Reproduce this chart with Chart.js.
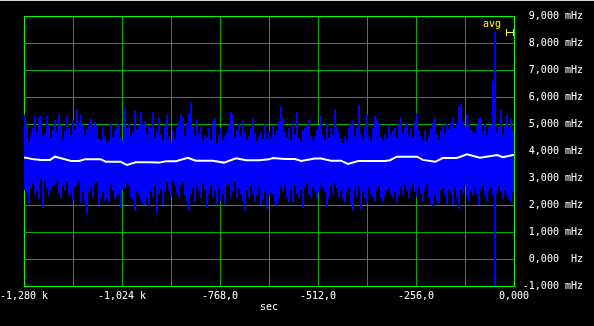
<!DOCTYPE html>
<html><head><meta charset="utf-8">
<script src="https://cdn.jsdelivr.net/npm/chart.js@4"></script>
<style>html,body{margin:0;padding:0;background:#000;overflow:hidden}canvas{display:block}</style>
</head><body>
<canvas id="c" width="594" height="326"></canvas>
<script>
// ---- data (values in mHz, time in sec) ----
const xTickValues = [-1280, -1024, -768, -512, -256, 0];
const xTickLabels = ['-1,280 k', '-1,024 k', '-768,0', '-512,0', '-256,0', '0,000'];
const yTickValues = [-1, 0, 1, 2, 3, 4, 5, 6, 7, 8, 9];
const yTickLabels = ['-1,000 mHz', '0,000  Hz', '1,000 mHz', '2,000 mHz', '3,000 mHz', '4,000 mHz',
                     '5,000 mHz', '6,000 mHz', '7,000 mHz', '8,000 mHz', '9,000 mHz'];
const timeSpan = 1280;

// per-bin maximum (245 bins across the record)
const binMax = [
5.35,4.95,4.35,4.60,4.85,5.30,4.70,5.25,5.30,4.55,
4.65,5.30,4.95,4.50,4.80,5.15,4.70,5.40,4.95,4.45,
4.75,5.30,4.85,4.60,5.15,4.80,5.55,5.05,5.35,4.95,
4.60,4.80,5.00,5.20,4.90,5.10,4.95,4.45,4.40,4.90,
4.55,4.30,4.40,5.00,4.50,4.75,4.90,5.00,4.50,4.40,
5.60,4.85,5.00,4.55,4.70,5.50,4.80,4.95,5.45,5.00,
5.10,4.60,4.95,
4.85,5.45,4.50,4.75,5.25,4.60,4.40,4.95,5.35,4.50,
4.35,4.75,4.45,4.85,5.10,5.35,5.25,4.55,5.05,5.40,
5.80,4.90,4.55,5.15,4.65,4.90,4.40,4.60,4.50,4.85,
4.40,5.10,5.20,4.30,4.60,4.85,4.40,4.55,4.70,4.95,
5.45,5.35,4.50,4.80,5.00,4.55,5.10,4.70,4.40,4.55,
4.85,5.20,4.65,4.35,4.55,4.70,4.45,5.00,4.50,4.75,
4.45,
4.95,4.60,4.75,5.10,5.65,5.20,4.70,4.50,4.85,4.40,
5.05,4.60,5.45,4.50,4.35,4.75,4.85,4.95,5.15,4.55,
4.40,4.55,4.80,4.95,5.30,4.60,4.40,5.00,4.50,4.85,
4.60,5.55,4.90,4.70,4.45,4.30,4.55,4.40,4.85,5.00,
5.10,4.55,4.90,5.70,4.65,4.45,4.90,5.35,4.55,4.40,
4.85,5.30,5.20,5.05,4.50,4.40,4.65,4.45,4.95,4.60,
4.75,
4.85,4.50,5.00,5.25,4.65,4.90,5.05,4.55,4.85,4.50,
5.10,5.40,4.80,4.55,4.40,4.75,4.35,4.55,4.85,5.05,
5.25,4.60,4.40,4.75,4.95,4.65,5.00,4.80,5.05,5.25,
4.85,5.00,5.65,5.75,5.10,4.90,5.35,5.05,4.80,4.70,
4.65,4.95,5.20,5.25,4.75,5.00,4.60,4.90,4.95,6.60,
8.45,4.70,4.90,5.55,4.60,4.95,5.35,4.85,5.20,4.75
];
// per-bin minimum
const binMin = [
2.55,2.45,2.05,2.65,2.80,2.40,2.55,2.20,2.95,1.90,
2.85,2.60,2.35,2.55,2.70,2.75,2.90,2.45,2.25,2.75,
2.55,2.85,2.35,2.45,2.15,2.65,2.75,2.90,2.10,2.50,
2.05,1.70,2.45,2.60,2.30,2.80,2.85,2.00,2.30,2.50,
2.15,2.25,2.10,2.70,2.55,2.20,2.35,2.40,1.90,2.55,
2.60,2.80,2.70,2.30,2.20,1.80,2.50,2.40,2.15,2.05,
2.00,2.30,1.95,
2.50,2.30,2.70,1.70,2.40,2.60,2.00,2.50,2.85,2.55,
2.30,2.90,2.75,2.45,2.25,2.70,2.85,2.35,2.15,1.80,
2.40,2.65,2.10,2.70,2.50,2.25,2.80,2.55,1.90,2.40,
2.70,2.30,2.55,2.05,2.60,2.15,2.40,2.05,2.70,2.80,
2.30,2.50,2.85,2.25,2.60,2.40,2.15,1.80,2.55,2.30,
2.70,2.40,2.10,2.35,2.65,2.00,2.20,2.50,1.85,2.35,
2.45,
2.40,2.05,1.95,2.20,2.65,2.50,2.70,2.30,2.10,2.55,
2.10,2.70,2.40,2.25,2.55,1.90,2.65,2.80,2.40,2.30,
2.70,2.50,2.25,2.45,2.75,2.60,2.50,1.95,2.25,2.70,
2.40,2.80,2.60,2.30,2.55,2.25,2.10,2.45,2.65,2.05,
1.80,2.55,2.30,2.70,1.85,2.50,2.25,2.05,2.65,2.40,
2.30,2.15,2.55,2.70,2.25,2.10,2.35,2.55,2.65,2.40,
2.25,
2.50,2.10,2.35,2.65,2.40,2.75,2.55,2.25,2.60,2.80,
2.50,2.30,2.65,2.40,2.15,2.55,2.75,2.30,2.05,1.95,
2.35,2.15,2.05,2.55,2.65,2.35,2.05,2.55,2.45,2.00,
2.65,2.25,1.85,2.55,2.40,2.70,2.35,2.10,2.55,2.35,
2.60,2.40,2.00,2.55,2.70,2.35,2.15,2.55,2.65,2.35,
-1.00,2.45,2.70,2.50,2.25,2.55,2.35,2.20,2.10,2.45
];
// running average
const avgTimes = [-1280,-1275,-1254,-1235,-1212,-1199,-1183,-1157,-1136,-1121,-1079,-1066,-1027,-1011,-988,-955,-927,-909,-883,-852,-831,-787,-758,-726,-700,-666,-640,-630,-598,-572,-556,-520,-504,-478,-452,-434,-407,-337,-324,-306,-253,-238,-206,-186,-149,-123,-89,-44,-29,-3,0];
const avgValues = [3.75,3.75,3.69,3.67,3.67,3.79,3.73,3.63,3.63,3.69,3.69,3.60,3.60,3.48,3.58,3.58,3.57,3.62,3.62,3.75,3.64,3.64,3.57,3.73,3.66,3.66,3.69,3.74,3.70,3.70,3.63,3.72,3.72,3.64,3.64,3.52,3.63,3.63,3.66,3.79,3.79,3.67,3.60,3.74,3.74,3.88,3.75,3.85,3.77,3.85,3.85];

// ---- build datasets ----
const nBins = binMax.length;
const bars = binMax.map((hi, i) => ({ x: -timeSpan + (i + 0.5) * timeSpan / nBins, y: [binMin[i], hi] }));
const avg = avgTimes.map((t, i) => ({ x: t, y: avgValues[i] }));

const FONT = { family: 'DejaVu Sans Mono', size: 10, lineHeight: 1.2 };
const GRID = '#00b000', EDGE = '#00ff00';

// snap scale pixels to clean values so 1px grid lines land on whole pixels
function snapPixels(scale) {
  const f = scale.getPixelForValue.bind(scale);
  scale.getPixelForValue = (v, i) => Math.round(f(v, i) * 1000) / 1000;
}

const overlay = {
  id: 'overlay',
  afterDraw(chart) {
    const c = chart.ctx, a = chart.chartArea;
    c.save();
    c.fillStyle = '#d4d4d4';
    c.fillRect(0, 0, chart.width, 1);
    c.fillStyle = '#ffff00';
    c.font = '10px "DejaVu Sans Mono"';
    c.textAlign = 'center';
    c.textBaseline = 'middle';
    c.fillText('avg', a.right - 22, a.top + 8);
    c.strokeStyle = '#ffff00';
    c.lineWidth = 1;
    c.beginPath();
    c.moveTo(a.right - 7.5, a.top + 13); c.lineTo(a.right - 7.5, a.top + 20);
    c.moveTo(a.right - 0.5, a.top + 13); c.lineTo(a.right - 0.5, a.top + 20);
    c.moveTo(a.right - 8, a.top + 16.5); c.lineTo(a.right, a.top + 16.5);
    c.stroke();
    c.restore();
  }
};

new Chart(document.getElementById('c'), {
  type: 'bar',
  data: {
    datasets: [
      { type: 'line', data: avg, borderColor: '#ffffff', borderWidth: 2, pointRadius: 0, tension: 0, order: 0 },
      { type: 'bar', data: bars, backgroundColor: '#0000ff', borderWidth: 0, barPercentage: 1, categoryPercentage: 1, inflateAmount: 0, order: 1 }
    ]
  },
  options: {
    responsive: false, animation: false, devicePixelRatio: 1, events: [],
    layout: { padding: { left: 24, top: 16, right: 11, bottom: 0 } },
    plugins: { legend: { display: false }, tooltip: { enabled: false } },
    scales: {
      x: {
        type: 'linear', min: -1280, max: 0, offset: false, position: 'bottom',
        ticks: {
          stepSize: 128, autoSkip: false, maxRotation: 0, color: '#ffffff', font: FONT, padding: 4,
          callback: (v) => { const i = xTickValues.indexOf(v); return i >= 0 ? xTickLabels[i] : ''; }
        },
        grid: { offset: false, drawTicks: false, lineWidth: 1,
          color: (ctx) => (ctx.tick && (ctx.tick.value === -1280 || ctx.tick.value === 0)) ? EDGE : GRID },
        border: { display: true, color: EDGE, width: 1 },
        title: { display: true, text: 'sec', color: '#ffffff', font: FONT, padding: { top: 0, bottom: 13 } },
        afterFit: (s) => { s.height = 40; s.paddingLeft = 0; s.paddingRight = 0; },
        afterUpdate: snapPixels
      },
      y: {
        type: 'linear', position: 'right', min: -1, max: 9,
        ticks: {
          stepSize: 1, color: '#ffffff', font: FONT, crossAlign: 'far', padding: 4,
          callback: (v) => { const i = yTickValues.indexOf(v); return i >= 0 ? yTickLabels[i] : ''; }
        },
        grid: { drawTicks: false, lineWidth: 1,
          color: (ctx) => (ctx.tick && (ctx.tick.value === -1 || ctx.tick.value === 9)) ? EDGE : GRID },
        border: { display: true, color: EDGE, width: 1 },
        afterFit: (s) => { s.width = 69; s.paddingTop = 0; s.paddingBottom = 0; },
        afterUpdate: snapPixels
      }
    }
  },
  plugins: [overlay]
});
</script>
</body></html>
